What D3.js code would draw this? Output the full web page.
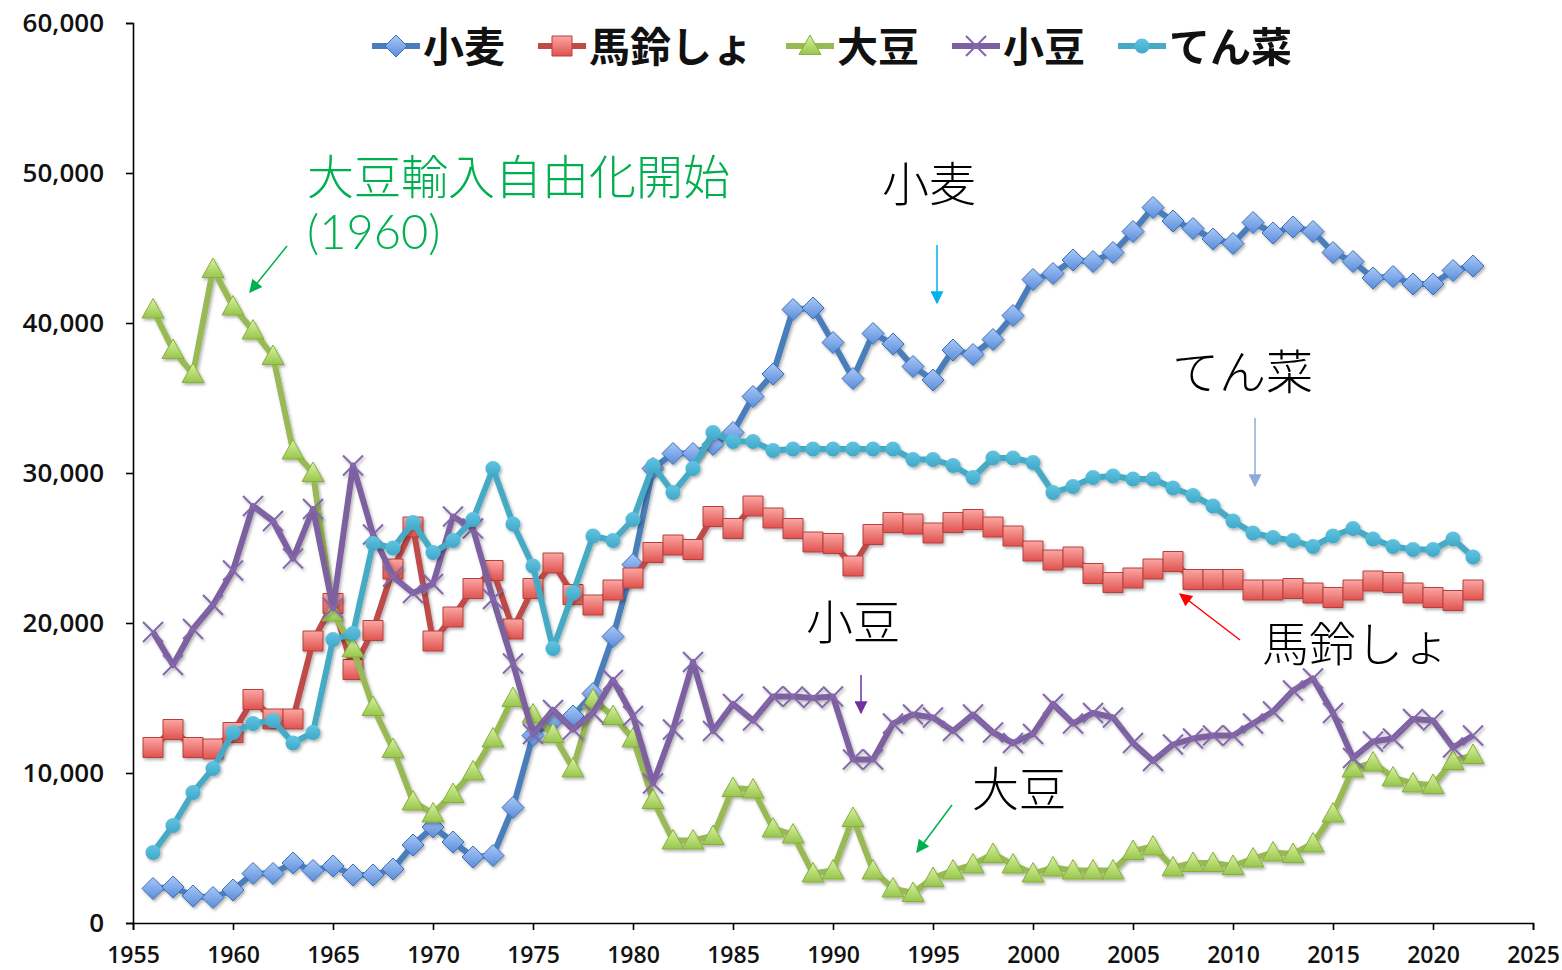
<!DOCTYPE html>
<html>
<head>
<meta charset="utf-8">
<script src="https://cdn.jsdelivr.net/npm/d3@7"></script>
<style>
body { margin: 0; background: #fff; }
</style>
</head>
<body>
<div id="chart"></div>
<script>
// data, 1956 - 2022
const firstYear = 1956;
const wheat = [
    2300, 2400, 1800, 1700,
    2200, 3300, 3300, 4000, 3500, 3800, 3200, 3200, 3600, 5200,
    6400, 5400, 4400, 4500, 7700, 12500, 13500, 13800, 15300, 19100,
    23900, 30300, 31300, 31300, 31900, 32700, 35100, 36600, 40900, 41000,
    38700, 36300, 39300, 38600, 37100, 36200, 38200, 37900, 38900, 40500,
    42900, 43300, 44200, 44100, 44700, 46100, 47700, 46800, 46300, 45600,
    45300, 46700, 46000, 46400, 46100, 44700, 44100, 43000, 43100, 42600,
    42600, 43500, 43800
];
const potato = [
    11700, 12900, 11700, 11600,
    12700, 14900, 13600, 13600, 18800, 21300, 16900, 19500, 23600, 26400,
    18800, 20400, 22300, 23500, 19600, 22300, 24000, 21900, 21200, 22200,
    23000, 24700, 25200, 24900, 27100, 26300, 27800, 27000, 26300, 25400,
    25300, 23800, 25900, 26700, 26600, 26000, 26700, 26900, 26400, 25800,
    24800, 24200, 24400, 23300, 22700, 23000, 23600, 24100, 22900, 22900,
    22900, 22200, 22200, 22300, 22000, 21700, 22200, 22800, 22700, 22000,
    21700, 21500, 22200
];
const soybean = [
    40900, 38200, 36600, 43600,
    41100, 39500, 37800, 31500, 30000, 20700, 18300, 14400, 11600, 8100,
    7300, 8600, 10100, 12300, 15000, 13900, 12600, 10300, 14900, 13800,
    12300, 8200, 5500, 5500, 5800, 9000, 8900, 6300, 5900, 3300,
    3500, 7000, 3500, 2300, 2000, 3000, 3500, 3900, 4600, 3900,
    3300, 3700, 3500, 3500, 3500, 4800, 5100, 3700, 4000, 4000,
    3800, 4300, 4700, 4600, 5300, 7300, 10300, 10700, 9700, 9300,
    9200, 10800, 11200
];
const adzuki = [
    19400, 17200, 19600, 21200,
    23500, 27800, 26800, 24300, 27600, 21000, 30500, 25900, 23100, 22000,
    22600, 27100, 26300, 21600, 17300, 12600, 14200, 12900, 14000, 16200,
    13800, 9300, 12900, 17400, 12800, 14600, 13500, 15100, 15100, 15000,
    15100, 10900, 10900, 13300, 13900, 13700, 12800, 13900, 12700, 12000,
    12600, 14600, 13300, 14000, 13700, 12000, 10800, 11900, 12300, 12500,
    12500, 13300, 14100, 15500, 16300, 14000, 11000, 12100, 12300, 13600,
    13500, 11700, 12500
];
const sugarbeet = [
    4700, 6500, 8700, 10300,
    12700, 13300, 13500, 12000, 12700, 18900, 19300, 25300, 25000, 26700,
    24700, 25500, 26900, 30300, 26600, 23800, 18300, 22000, 25800, 25500,
    26900, 30500, 28700, 30300, 32700, 32100, 32100, 31500, 31600, 31600,
    31600, 31600, 31600, 31600, 30900, 30900, 30500, 29700, 31000, 31000,
    30700, 28700, 29100, 29700, 29800, 29600, 29600, 29000, 28500, 27800,
    26800, 26000, 25700, 25500, 25100, 25800, 26300, 25600, 25100, 24900,
    24900, 25600, 24400
];
const seriesNames = ["小麦", "馬鈴しょ", "大豆", "小豆", "てん菜"];
const yTicks = [0, 10000, 20000, 30000, 40000, 50000, 60000];
const xTicks = [1955, 1960, 1965, 1970, 1975, 1980, 1985, 1990, 1995, 2000, 2005, 2010, 2015, 2020, 2025];

// notes on the chart, placed in year / value units
const notes = [
    {text: "大豆輸入自由化開始", yr: 1963.7, val: 50000, color: "#00b050", font: "'Noto Sans CJK JP'"},
    {text: "(1960)", yr: 1963.7, val: 46130, color: "#00b050", font: "Lato, 'Noto Sans CJK JP'"},
    {text: "小麦", yr: 1992.45, val: 49533, color: "#000", font: "'Noto Sans CJK JP'"},
    {text: "てん菜", yr: 2006.95, val: 37000, color: "#000", font: "'Noto Sans CJK JP'"},
    {text: "小豆", yr: 1988.65, val: 20333, color: "#000", font: "'Noto Sans CJK JP'"},
    {text: "馬鈴しょ", yr: 2011.45, val: 18866, color: "#000", font: "'Noto Sans CJK JP'"},
    {text: "大豆", yr: 1996.95, val: 9200, color: "#000", font: "'Noto Sans CJK JP'"}
];
const arrows = [
    {from: [1962.7, 45133], to: [1960.85, 42067], color: "#00b050"},
    {from: [1995.2, 45200], to: [1995.2, 41333], color: "#00b0f0"},
    {from: [2011.1, 33667], to: [2011.1, 29133], color: "#8eaadb"},
    {from: [1991.4, 16533], to: [1991.4, 14000], color: "#7030a0"},
    {from: [2010.35, 18867], to: [2007.35, 21933], color: "#ff0000"},
    {from: [1995.95, 7867], to: [1994.2, 4733], color: "#00b050"}
];

const width = 1562, height = 970;
const x = d3.scaleLinear().domain([1955, 2025]).range([133, 1533]);
const y = d3.scaleLinear().domain([0, 60000]).range([923, 23]);

const svg = d3.select("#chart").append("svg")
    .attr("width", width)
    .attr("height", height)
    .style("font-family", "'Noto Sans CJK JP', 'Noto Sans', sans-serif");

const defs = svg.append("defs");
let shadow = defs.append("filter").attr("id", "shadow")
    .attr("x", "-5%").attr("y", "-5%").attr("width", "110%").attr("height", "110%");
shadow.append("feDropShadow")
    .attr("dx", 1.5).attr("dy", 2).attr("stdDeviation", 1.5)
    .attr("flood-color", "#000").attr("flood-opacity", 0.3);

let addGrad = (id, top, bottom) => {
    let g = defs.append("linearGradient").attr("id", id)
        .attr("x1", 0).attr("y1", 0).attr("x2", 0).attr("y2", 1);
    g.append("stop").attr("offset", "0%").attr("stop-color", top);
    g.append("stop").attr("offset", "100%").attr("stop-color", bottom);
};
addGrad("gBlue", "#a9c8f7", "#5a8ddb");
addGrad("gRed", "#fba7a4", "#e0524e");
addGrad("gGreen", "#d8f3a0", "#98c64c");
addGrad("gCyan", "#62c4e2", "#3fa8c8");

// marker shapes around (0,0)
const shapes = {
    diamond: "M0,-11L11,0L0,11L-11,0Z",
    square: "M-10,-10H10V10H-10Z",
    triangle: "M0,-11L11,8.5L-11,8.5Z",
    cross: "M-10,-10L10,10M-10,10L10,-10",
    circle: d3.symbol(d3.symbolCircle, 180)()
};

const series = [
    {name: seriesNames[0], values: wheat, line: "#4a7ebb", shape: "diamond", fill: "url(#gBlue)", stroke: "#3e6fb6", sw: 1},
    {name: seriesNames[1], values: potato, line: "#be4b48", shape: "square", fill: "url(#gRed)", stroke: "#b6403d", sw: 1},
    {name: seriesNames[2], values: soybean, line: "#98b954", shape: "triangle", fill: "url(#gGreen)", stroke: "#88ae40", sw: 1},
    {name: seriesNames[3], values: adzuki, line: "#7d60a0", shape: "cross", fill: "none", stroke: "#8568ac", sw: 2},
    {name: seriesNames[4], values: sugarbeet, line: "#46aac5", shape: "circle", fill: "url(#gCyan)", stroke: "none", sw: 0}
];

// axes
let yAxis = d3.axisLeft(y).tickValues(yTicks).tickFormat(d3.format(",")).tickSize(7).tickPadding(22);
let xAxis = d3.axisBottom(x).tickValues(xTicks).tickFormat(d3.format("d")).tickSize(7).tickPadding(17);

let gy = svg.append("g").attr("transform", "translate(133,0)").call(yAxis);
let gx = svg.append("g").attr("transform", "translate(0,923)").call(xAxis);
[gy, gx].forEach(g => {
    g.select(".domain").attr("stroke", "#000").attr("stroke-width", 1.6);
    g.selectAll(".tick line").attr("stroke", "#000").attr("stroke-width", 1.6);
    g.selectAll(".tick text")
        .attr("fill", "#111")
        .style("font-family", "'Open Sans', 'Liberation Sans', sans-serif")
        .style("font-weight", 600);
});
gy.selectAll(".tick text").style("font-size", "26px").attr("dy", "0.34em");
gx.selectAll(".tick text").style("font-size", "23px");

let line = d3.line()
    .x((d, i) => x(firstYear + i))
    .y(d => y(d));

let drawMarker = (g, s, cx, cy) => {
    g.append("path")
        .attr("d", shapes[s.shape])
        .attr("transform", "translate(" + cx + "," + cy + ")")
        .attr("fill", s.fill)
        .attr("stroke", s.stroke)
        .attr("stroke-width", s.sw);
};

for (let i = 0; i < series.length; i++) {
    let s = series[i];
    let g = svg.append("g").attr("filter", "url(#shadow)");
    g.append("path")
        .datum(s.values)
        .attr("d", line)
        .attr("fill", "none")
        .attr("stroke", s.line)
        .attr("stroke-width", 6)
        .attr("stroke-linejoin", "round");
    s.values.forEach((v, j) => drawMarker(g, s, x(firstYear + j), y(v)));
}

// legend
let lx = 372;
const ly = 46;
for (let i = 0; i < series.length; i++) {
    let s = series[i];
    let g = svg.append("g");
    g.append("line")
        .attr("x1", lx).attr("x2", lx + 48)
        .attr("y1", ly).attr("y2", ly)
        .attr("stroke", s.line).attr("stroke-width", 6);
    drawMarker(g, s, lx + 24, ly);
    let t = g.append("text")
        .attr("x", lx + 51)
        .attr("y", ly - 2)
        .attr("dominant-baseline", "central")
        .style("font-size", "41px")
        .style("font-weight", 700)
        .attr("fill", "#111")
        .text(s.name);
    lx = lx + 51 + t.node().getComputedTextLength() + 33;
}

// annotations
let arrowHead = (id, color) => {
    defs.append("marker")
        .attr("id", id)
        .attr("viewBox", "0 0 10 10")
        .attr("refX", 9).attr("refY", 5)
        .attr("markerWidth", 15).attr("markerHeight", 13)
        .attr("markerUnits", "userSpaceOnUse")
        .attr("orient", "auto")
        .append("path")
        .attr("d", "M0,0L10,5L0,10Z")
        .attr("fill", color);
};
arrows.forEach((a, i) => {
    arrowHead("ah" + i, a.color);
    svg.append("line")
        .attr("x1", x(a.from[0])).attr("y1", y(a.from[1]))
        .attr("x2", x(a.to[0])).attr("y2", y(a.to[1]))
        .attr("stroke", a.color)
        .attr("stroke-width", 1.5)
        .attr("marker-end", "url(#ah" + i + ")");
});
notes.forEach(n => {
    svg.append("text")
        .attr("x", x(n.yr))
        .attr("y", y(n.val))
        .attr("dominant-baseline", "central")
        .attr("fill", n.color)
        .style("font-family", n.font)
        .style("font-size", "47px")
        .style("font-weight", 300)
        .text(n.text);
});
</script>
</body>
</html>
